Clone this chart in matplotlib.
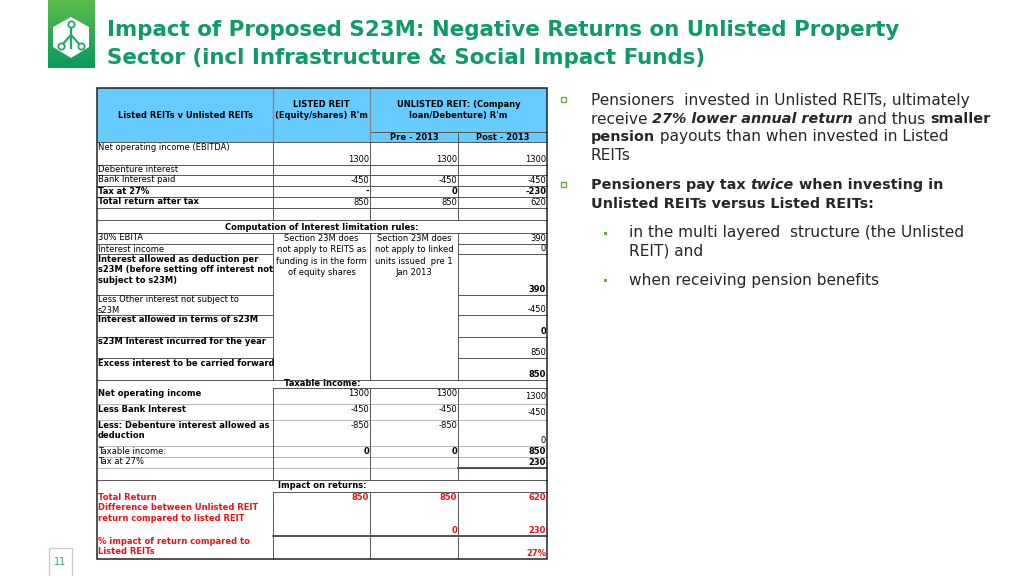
import numpy as np
import matplotlib.pyplot as plt
from matplotlib.patches import Rectangle, Polygon

# SLIDE: Listed vs Unlisted REITs table + bullet text
# DATA --------------------------------------------------------
title_lines = ["Impact of Proposed S23M: Negative Returns on Unlisted Property",
               "Sector (incl Infrastructure & Social Impact Funds)"]

head_cols = ["Listed REITs v Unlisted REITs", "LISTED REIT\n(Equity/shares) R'm",
             "UNLISTED REIT: (Company\nloan/Debenture) R'm"]
sub_cols = ["Pre - 2013", "Post - 2013"]

# section 1
labels1 = ["Net operating income (EBITDA)", "Debenture interest", "Bank Interest paid",
           "Tax at 27%", "Total return after tax"]
listed1 = ["1300", "", "-450", "-", "850"]
pre1 = ["1300", "", "-450", "0", "850"]
post1 = ["1300", "", "-450", "-230", "620"]

# section 2
sec2_title = "Computation of Interest limitation rules:"
labels2 = ["30% EBITA", "Interest income",
           "Interest allowed as deduction per\ns23M (before setting off interest not\nsubject to s23M)",
           "Less Other interest not subject to\ns23M", "Interest allowed in terms of s23M",
           "s23M Interest incurred for the year", "Excess interest to be carried forward"]
post2 = ["390", "0", "390", "-450", "0", "850", "850"]
note_listed = "Section 23M does\nnot apply to REITS as\nfunding is in the form\nof equity shares"
note_pre = "Section 23M does\nnot apply to linked\nunits issued  pre 1\nJan 2013"

# section 3
sec3_title = "Taxable income:"
labels3 = ["Net operating income", "Less Bank Interest",
           "Less: Debenture interest allowed as\ndeduction", "Taxable income:", "Tax at 27%"]
listed3 = ["1300", "-450", "-850", "0", ""]
pre3 = ["1300", "-450", "-850", "0", ""]
post3 = ["1300", "-450", "0", "850", "230"]

# section 4
sec4_title = "Impact on returns:"
labels4 = ["Total Return", "Difference between Unlisted REIT\nreturn compared to listed REIT",
           "% impact of return compared to\nListed REITs"]
listed4 = ["850", "", ""]
pre4 = ["850", "0", ""]
post4 = ["620", "230", "27%"]

page_no = "11"

# LAYOUT ------------------------------------------------------
GREEN = "#0f9a6c"
BLUE = "#66ccff"
RED = "#e8121b"
LINE = "#555555"
TFONT = "DejaVu Sans"
FS = 6.0

fig = plt.figure(figsize=(10.24, 5.76), dpi=100)
ax = fig.add_axes([0, 0, 1, 1])
ax.set_xlim(0, 1024)
ax.set_ylim(576, 0)
ax.axis("off")

# logo
grad = np.linspace(0, 1, 100).reshape(-1, 1)
ax.imshow(grad, extent=(48, 95, 68, 0), cmap=plt.matplotlib.colors.LinearSegmentedColormap.from_list(
    "g", ["#5bbb4a", "#0a9a5c"]), aspect="auto", zorder=1)
hexa = np.array([[71, 17], [89, 27], [89, 47], [71, 58], [53, 47], [53, 27]])
ax.add_patch(Polygon(hexa, closed=True, fc="white", ec="none", zorder=2))
ax.plot([71, 71], [24, 48], color="#2aa56a", lw=1.6, zorder=3)
ax.plot([61, 71, 81], [46, 35, 46], color="#2aa56a", lw=1.6, zorder=3)
for cx, cy in [(71, 24), (61, 46), (81, 46)]:
    ax.plot(cx, cy, "o", ms=4.5, mfc="white", mec="#2aa56a", mew=1.3, zorder=4)

# title
for i, t in enumerate(title_lines):
    ax.text(107, 30 + 28 * i, t, color=GREEN, fontsize=15.4, fontweight="bold",
            family="DejaVu Sans", va="center", ha="left")

# page number
ax.add_patch(Rectangle((49, 548), 23, 30, fc="white", ec="#cccccc", lw=1))
ax.text(60.5, 562, page_no, color="#2a9d8f", fontsize=7, ha="center", va="center")

# table geometry
X0, X1, X2, X3, X4 = 97, 273, 370, 458, 547


def hline(y, xa=X0, xb=X4, lw=0.7, c=LINE):
    ax.plot([xa, xb], [y, y], color=c, lw=lw, zorder=5)


def vline(x, ya, yb, lw=0.7, c=LINE):
    ax.plot([x, x], [ya, yb], color=c, lw=lw, zorder=5)


def cell_label(y0, y1, s, bold=False, color="black"):
    ax.text(X0 + 1, y0 + 0.5, s, fontsize=FS, family=TFONT, va="top", ha="left",
            fontweight="bold" if bold else "normal", color=color, linespacing=1.25, zorder=6)


def cell_val(x, y1, s, bold=False, color="black", va="bottom"):
    if s == "":
        return
    ax.text(x - 1, y1 - 1 if va == "bottom" else y1 + 1, s, fontsize=FS, family=TFONT,
            va=va, ha="right", fontweight="bold" if bold else "normal", color=color, zorder=6)


# header
ax.add_patch(Rectangle((X0, 88), X4 - X0, 54, fc=BLUE, ec="none", zorder=1))
ax.text((X0 + X1) / 2, 115, head_cols[0], fontsize=FS, family=TFONT, fontweight="bold",
        ha="center", va="center", zorder=6)
ax.text((X1 + X2) / 2, 110, head_cols[1], fontsize=FS, family=TFONT, fontweight="bold",
        ha="center", va="center", linespacing=1.4, zorder=6)
ax.text((X2 + X4) / 2, 110, head_cols[2], fontsize=FS, family=TFONT, fontweight="bold",
        ha="center", va="center", linespacing=1.4, zorder=6)
ax.text((X2 + X3) / 2, 137, sub_cols[0], fontsize=FS, family=TFONT, fontweight="bold",
        ha="center", va="center", zorder=6)
ax.text((X3 + X4) / 2, 137, sub_cols[1], fontsize=FS, family=TFONT, fontweight="bold",
        ha="center", va="center", zorder=6)
hline(132, X2, X4)
vline(X3, 132, 142)
vline(X1, 88, 142, lw=1.0, c="#888888")
vline(X2, 88, 142, lw=1.0, c="#888888")
hline(142)

# section 1
edges1 = [142, 165, 175, 186, 197, 208]
for i, lab in enumerate(labels1):
    y0, y1 = edges1[i], edges1[i + 1]
    cell_label(y0, y1, lab, bold=(i >= 3))
    cell_val(X2, y1, listed1[i], bold=(i == 3))
    cell_val(X3, y1, pre1[i], bold=(i == 3))
    cell_val(X4, y1, post1[i], bold=(i == 3))
    hline(y1)
hline(220)
for x in (X1, X2, X3):
    vline(x, 142, 220)

# section 2
ax.text((X0 + X4) / 2, 227.5, sec2_title, fontsize=FS, family=TFONT, fontweight="bold",
        ha="center", va="center", zorder=6)
hline(233)
edges2 = [233, 244, 254, 295, 315, 337, 358, 380]
bold2 = [False, False, True, False, True, True, True]
for i, lab in enumerate(labels2):
    y0, y1 = edges2[i], edges2[i + 1]
    cell_label(y0, y1, lab, bold=bold2[i])
    cell_val(X4, y1, post2[i], bold=(i in (2, 4, 6)))
    hline(y1, X0, X1)
    hline(y1, X3, X4)
ax.text((X1 + X2) / 2, 234, note_listed, fontsize=FS, family=TFONT, ha="center", va="top",
        linespacing=1.35, zorder=6)
ax.text((X2 + X3) / 2, 234, note_pre, fontsize=FS, family=TFONT, ha="center", va="top",
        linespacing=1.35, zorder=6)
for x in (X1, X2, X3):
    vline(x, 233, 380)
hline(380)

# section 3
ax.text((X0 + X4) / 2, 383, sec3_title, fontsize=FS, family=TFONT, fontweight="bold",
        ha="center", va="center", zorder=6)
hline(388, X1, X4)
edges3 = [388, 404, 420, 446, 457, 468]
for i, lab in enumerate(labels3):
    y0, y1 = edges3[i], edges3[i + 1]
    cell_label(y0, y1, lab, bold=(i < 3))
    if i < 3:
        cell_val(X2, y0, listed3[i], va="top")
        cell_val(X3, y0, pre3[i], va="top")
    else:
        cell_val(X2, y1, listed3[i], bold=True)
        cell_val(X3, y1, pre3[i], bold=True)
    cell_val(X4, y1 - (2 if i < 2 else 0), post3[i], bold=(i >= 3))
    hline(y1, lw=0.5, c="#999999")
hline(468, X3, X4, lw=1.2, c="#333333")
hline(480)
for x in (X1, X2, X3):
    vline(x, 388, 480)

# section 4
ax.text((X0 + X4) / 2, 486, sec4_title, fontsize=FS, family=TFONT, fontweight="bold",
        ha="center", va="center", zorder=6)
hline(492, X1, X4)
edges4 = [492, 503, 536, 559]
for i, lab in enumerate(labels4):
    y0, y1 = edges4[i], edges4[i + 1]
    cell_label(y0, y1, lab, bold=True, color=RED)
    cell_val(X2, y1, listed4[i], bold=True, color=RED)
    cell_val(X3, y1, pre4[i], bold=True, color=RED)
    cell_val(X4, y1, post4[i], bold=True, color=RED)
hline(536, X1, X4, lw=1.2, c="#333333")
for x in (X1, X2, X3):
    vline(x, 492, 559)

# outer border
ax.add_patch(Rectangle((X0, 88), X4 - X0, 559 - 88, fc="none", ec="#222222", lw=1.1, zorder=7))

# bullet text with mixed styles
renderer = fig.canvas.get_renderer()
BFONT = "DejaVu Sans"
SIZES = {"normal": 11.1, "bold": 10.4}


def run_width(s, w, st):
    t1 = ax.text(0, 0, s + "x", fontsize=SIZES[w], family=BFONT, fontweight=w, fontstyle=st)
    t2 = ax.text(0, 0, "x", fontsize=SIZES[w], family=BFONT, fontweight=w, fontstyle=st)
    wd = t1.get_window_extent(renderer).width - t2.get_window_extent(renderer).width
    t1.remove()
    t2.remove()
    return wd


def draw_line(x, y, runs):
    for s, w, st in runs:
        ax.text(x, y, s, fontsize=SIZES[w], family=BFONT, fontweight=w, fontstyle=st,
                va="center", ha="left", color="#262626")
        x += run_width(s, w, st)


N, B = "normal", "bold"
lines = [
    (100, [("Pensioners  invested in Unlisted REITs, ultimately", N, N)]),
    (119, [("receive ", N, N), ("27% lower annual return", B, "italic"),
           (" and thus ", N, N), ("smaller", B, N)]),
    (137, [("pension", B, N), (" payouts than when invested in Listed", N, N)]),
    (156, [("REITs", N, N)]),
    (185, [("Pensioners pay tax ", B, N), ("twice", B, "italic"), (" when investing in", B, N)]),
    (204, [("Unlisted REITs versus Listed REITs:", B, N)]),
]
for y, runs in lines:
    draw_line(591, y, runs)
for y in (100, 185):
    ax.add_patch(Rectangle((561, y - 3), 5, 5, fc="none", ec="#6aaa3a", lw=1.0))

sub = [(233, "in the multi layered  structure (the Unlisted"), (251, "REIT) and"),
       (280, "when receiving pension benefits")]
for y, s in sub:
    ax.text(629, y, s, fontsize=SIZES[N], family=BFONT, va="center", ha="left", color="#262626")
for y in (233, 280):
    ax.add_patch(Rectangle((604, y - 1), 2.5, 2.5, fc="#6aaa3a", ec="none"))

fig.savefig("out.png", dpi=100)
